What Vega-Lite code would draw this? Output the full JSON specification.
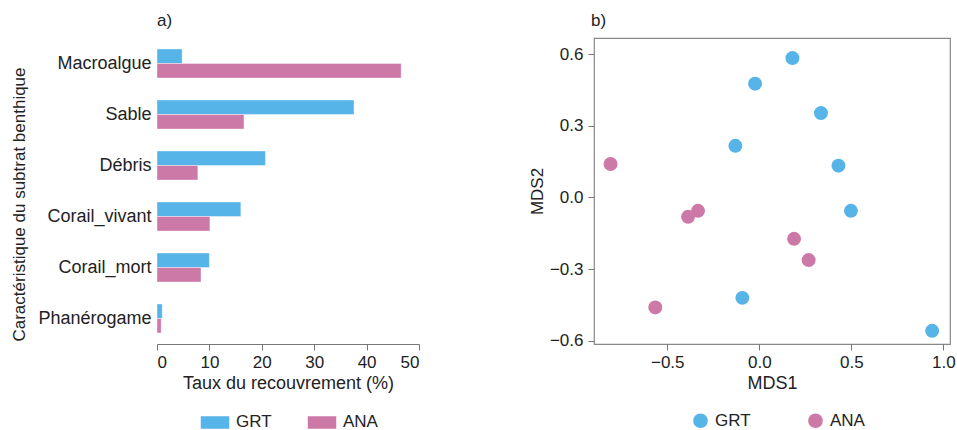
{
  "$schema": "https://vega.github.io/schema/vega-lite/v6.json",
  "padding": {"left": 10, "top": 11, "right": 5, "bottom": 0},
  "background": "white",
  "config": {
    "font": "Liberation Sans, Arial",
    "view": {"stroke": null},
    "axis": {"domainColor": "#777", "tickColor": "#777", "labelColor": "#222", "titleColor": "#222", "labelFontSize": 17, "titleFontSize": 18, "titleFontWeight": "normal", "grid": false, "tickSize": 6},
    "legend": {"labelFontSize": 17, "labelColor": "#222", "padding": 0},
    "title": {"fontSize": 17, "fontWeight": "normal", "color": "#222", "anchor": "start", "frame": "group"}
  },
  "spacing": 107,
  "resolve": {"scale": {"color": "independent"}, "legend": {"color": "independent"}},
  "hconcat": [
    {
      "width": 262,
      "height": 306,
      "title": {"text": "a)", "offset": 8},
      "data": {"values": [
        {"Caracteristique": "Macroalgue", "Site": "GRT", "Taux": 4.8},
        {"Caracteristique": "Macroalgue", "Site": "ANA", "Taux": 46.6},
        {"Caracteristique": "Sable", "Site": "GRT", "Taux": 37.6},
        {"Caracteristique": "Sable", "Site": "ANA", "Taux": 16.6},
        {"Caracteristique": "Débris", "Site": "GRT", "Taux": 20.7},
        {"Caracteristique": "Débris", "Site": "ANA", "Taux": 7.8},
        {"Caracteristique": "Corail_vivant", "Site": "GRT", "Taux": 16.0},
        {"Caracteristique": "Corail_vivant", "Site": "ANA", "Taux": 10.1},
        {"Caracteristique": "Corail_mort", "Site": "GRT", "Taux": 10.0},
        {"Caracteristique": "Corail_mort", "Site": "ANA", "Taux": 8.4},
        {"Caracteristique": "Phanérogame", "Site": "GRT", "Taux": 1.0},
        {"Caracteristique": "Phanérogame", "Site": "ANA", "Taux": 0.8}
      ]},
      "mark": {"type": "bar", "stroke": "white", "strokeWidth": 0.8, "strokeOpacity": 0.5},
      "encoding": {
        "y": {
          "field": "Caracteristique", "type": "nominal",
          "sort": ["Macroalgue", "Sable", "Débris", "Corail_vivant", "Corail_mort", "Phanérogame"],
          "scale": {"paddingInner": 0.43, "paddingOuter": 0.215},
          "axis": {"title": "Caractéristique du subtrat benthique", "titleFontSize": 17, "titleY": 166, "ticks": false, "domain": false, "labelPadding": 6, "labelFontSize": 18, "titlePadding": 9}
        },
        "yOffset": {"field": "Site", "type": "nominal", "sort": ["GRT", "ANA"]},
        "x": {
          "field": "Taux", "type": "quantitative",
          "scale": {"domain": [0, 50], "nice": false},
          "axis": {"values": [0, 10, 20, 30, 40, 50], "title": "Taux du recouvrement (%)", "labelPadding": 4, "titlePadding": 4}
        },
        "color": {
          "field": "Site", "type": "nominal",
          "scale": {"domain": ["GRT", "ANA"], "range": ["#56B4E9", "#CC79A7"]},
          "legend": {"title": null, "orient": "none", "direction": "horizontal", "legendX": 42, "legendY": 368, "symbolType": "M-1,-0.467H1V0.467H-1Z", "symbolSize": 900, "symbolOpacity": 1, "labelOffset": 5, "columnPadding": 32}
        }
      }
    },
    {
      "width": 356,
      "height": 306,
      "title": {"text": "b)", "offset": 8, "dx": -3},
      "view": {"stroke": "#888", "strokeWidth": 1.2},
      "data": {"values": [
        {"Site": "GRT", "MDS1": 0.18, "MDS2": 0.583},
        {"Site": "GRT", "MDS1": -0.023, "MDS2": 0.476},
        {"Site": "GRT", "MDS1": 0.335, "MDS2": 0.353},
        {"Site": "GRT", "MDS1": -0.13, "MDS2": 0.216},
        {"Site": "GRT", "MDS1": 0.43, "MDS2": 0.133},
        {"Site": "GRT", "MDS1": 0.498, "MDS2": -0.056},
        {"Site": "GRT", "MDS1": -0.092, "MDS2": -0.42},
        {"Site": "GRT", "MDS1": 0.939, "MDS2": -0.558},
        {"Site": "ANA", "MDS1": -0.808, "MDS2": 0.14},
        {"Site": "ANA", "MDS1": -0.333, "MDS2": -0.056},
        {"Site": "ANA", "MDS1": -0.387, "MDS2": -0.081},
        {"Site": "ANA", "MDS1": 0.189, "MDS2": -0.173},
        {"Site": "ANA", "MDS1": 0.268, "MDS2": -0.262},
        {"Site": "ANA", "MDS1": -0.565, "MDS2": -0.46}
      ]},
      "mark": {"type": "circle", "size": 195, "opacity": 1},
      "encoding": {
        "x": {
          "field": "MDS1", "type": "quantitative",
          "scale": {"domain": [-0.898, 1.036], "nice": false, "zero": false},
          "axis": {"values": [-0.5, 0, 0.5, 1], "format": ".1f", "title": "MDS1", "domain": false, "labelPadding": 4, "titlePadding": 4}
        },
        "y": {
          "field": "MDS2", "type": "quantitative",
          "scale": {"domain": [-0.613, 0.667], "nice": false, "zero": false},
          "axis": {"values": [-0.6, -0.3, 0, 0.3, 0.6], "format": ".1f", "title": "MDS2", "titleFontSize": 17, "domain": false, "labelPadding": 5, "titlePadding": 3}
        },
        "color": {
          "field": "Site", "type": "nominal",
          "scale": {"domain": ["GRT", "ANA"], "range": ["#56B4E9", "#CC79A7"]},
          "legend": {"title": null, "orient": "none", "direction": "horizontal", "legendX": 98, "legendY": 374, "symbolType": "circle", "symbolSize": 215, "symbolOpacity": 1, "labelOffset": 6, "columnPadding": 56}
        }
      }
    }
  ]
}
